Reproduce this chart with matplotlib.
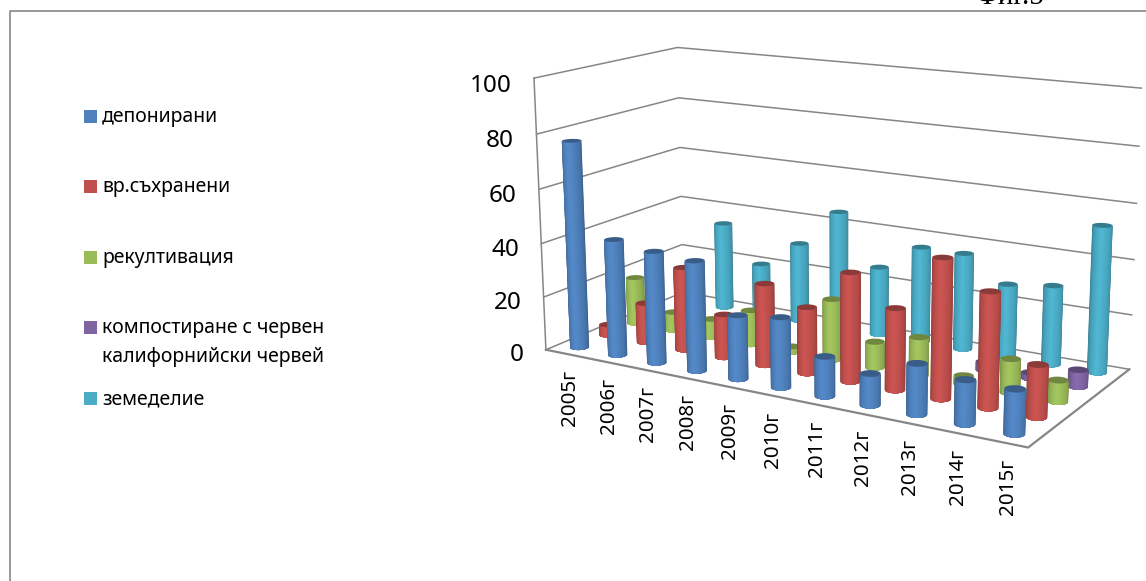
#!/usr/bin/python3

import numpy as np
import matplotlib
matplotlib.use('Agg')
import matplotlib.pyplot as plt
from matplotlib.colors import to_rgb
from matplotlib.patches import Rectangle
from mpl_toolkits.mplot3d import proj3d
from mpl_toolkits.mplot3d.art3d import Poly3DCollection

W, H = 1146, 581

years = ['2005г', '2006г', '2007г', '2008г', '2009г', '2010г', '2011г', '2012г', '2013г', '2014г', '2015г']
series_names = ['депонирани', 'вр.съхранени', 'рекултивация', 'компостиране с червен\nкалифорнийски червей', 'земеделие']
series_colours = ['#4f81bd', '#c0504d', '#9bbb59', '#8064a2', '#4bacc6']

deponirani = [77, 43, 41, 40, 23, 25, 14, 11, 17.5, 15, 15]
vr_sahraneni = [4, 15, 31, 16, 30, 24, 39, 29, 49, 40, 18]
rekultivacia = [18, 7, 7, 13, 2, 22.5, 9.5, 14, 3, 12, 7.5]
kompostirane = [0, 0, 0, 0, 0, 0, 0, 0, 3, 2, 6]
zemedelie = [0, 34, 20, 30.5, 45, 26, 36, 36, 27, 29, 53]
series_values = [deponirani, vr_sahraneni, rekultivacia, kompostirane, zemedelie]

z_ticks = [0, 20, 40, 60, 80, 100]

GRID = '#868686'
FONT = ['Noto Sans', 'DejaVu Sans']
RADIUS = 0.2
AZIM = -59.4832
LAYERS = 12

fig = plt.figure(figsize=(W / 100, H / 100), dpi=100)
S = 800.0
cx, cy = 821.363, 234.770
ax = fig.add_axes([(cx - S / 2) / W, (H - cy - S / 2) / H, S / W, S / H],
                  projection='3d', computed_zorder=False)
ax.view_init(elev=14.0592, azim=AZIM, roll=0.084)
ax.set_proj_type('persp', focal_length=0.398)
ax.set_box_aspect((1, 0.4505, 0.5218), zoom=0.8043)
ax.set_axis_off()


def set_limits():
    ax.set_xlim(0, len(years), view_margin=0)
    ax.set_ylim(0, len(series_names), view_margin=0)
    ax.set_zlim(0, 100, view_margin=0)


set_limits()
ax.apply_aspect()
M = ax.get_proj()


def screen_xy(x, y, z):
    tx, ty, tz = proj3d.proj_transform(x, y, z, M)
    return (tx, ty), tz


def shade(colour, factor):
    return tuple(min(1.0, c * factor) for c in to_rgb(colour))


def add_poly(verts, colour, order):
    poly = Poly3DCollection([verts], facecolors=[colour], edgecolors='none', linewidths=0)
    ax.add_collection3d(poly)
    poly.set_zorder(order)


def draw_cylinder(x, y, height, colour, order):
    # nested strips, each narrower and lighter than the one under it
    for k in range(LAYERS):
        frac = k / LAYERS
        half = 90 * (1 - frac)
        mid = AZIM - 14 * frac
        t = np.radians(np.linspace(mid - half, mid + half, 25))
        xs = x + RADIUS * np.cos(t)
        ys = y + RADIUS * np.sin(t)
        verts = np.vstack([np.column_stack([xs, ys, np.zeros_like(t)]),
                           np.column_stack([xs, ys, np.full_like(t, height)])[::-1]])
        add_poly(verts, shade(colour, 0.7 + 0.38 * frac ** 0.6), order + k * 0.01)
    t = np.radians(np.linspace(0, 360, 49))
    cap = np.column_stack([x + RADIUS * np.cos(t), y + RADIUS * np.sin(t), np.full_like(t, height)])
    add_poly(cap, shade(colour, 0.72), order + 0.5)


# walls and floor
nx, ny = len(years), len(series_names)
for z in z_ticks:
    ax.plot([0, 0, nx], [0, ny, ny], [z, z, z], color=GRID, lw=1.1, zorder=1)
ax.plot([0, 0], [0, 0], [0, 100], color=GRID, lw=1.1, zorder=1)
ax.plot([0, nx, nx], [0, 0, ny], [0, 0, 0], color=GRID, lw=1.6, zorder=1)

# cylinders painted from the back to the front
bars = []
for j, values in enumerate(series_values):
    for i, v in enumerate(values):
        if v > 0:
            _, depth = screen_xy(i + 0.5, j + 0.5, 0)
            bars.append((depth, i, j, v))
bars.sort(key=lambda b: -b[0])
for rank, (depth, i, j, v) in enumerate(bars):
    draw_cylinder(i + 0.5, j + 0.5, v, series_colours[j], 10 + rank)

set_limits()

# axis labels
for z in z_ticks:
    xy, _ = screen_xy(0, 0, z)
    ax.annotate(str(z), xy=xy, xycoords='data', xytext=(-16, -3.5 - z * 0.02), textcoords='offset points',
                ha='right', va='center', fontsize=17.5, family=FONT, color='black', zorder=200)
for i, year in enumerate(years):
    xy, _ = screen_xy(i + 0.5, 0, 0)
    ax.annotate(year, xy=xy, xycoords='data', xytext=(4, -12), textcoords='offset points',
                ha='center', va='top', rotation=90, fontsize=14.8, family=FONT, color='black', zorder=200)

# outer frame, legend and the caption cut by the page edge
over = fig.add_axes([0, 0, 1, 1], zorder=5)
over.set_xlim(0, W)
over.set_ylim(H, 0)
over.axis('off')
over.plot([9.5, 9.5, W + 5], [H + 5, 10.5, 10.5], color=GRID, lw=1.2, clip_on=False)
legend_y = [116, 186, 257, 327, 398]
for name, colour, ly in zip(series_names, series_colours, legend_y):
    over.add_patch(Rectangle((84, ly - 6.5), 13, 13, facecolor=colour, edgecolor='none'))
    over.text(102, ly - 9, name, fontsize=14, family=FONT, color='black', va='top', ha='left', linespacing=1.58)
over.text(1045, 3.5, 'Фиг.5', fontsize=21, family='Liberation Serif', color='black', ha='right', va='baseline')

fig.savefig('out.png', dpi=100)
